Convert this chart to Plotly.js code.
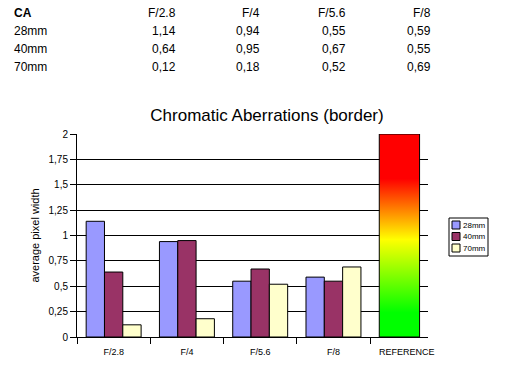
<!DOCTYPE html>
<html><head><meta charset="utf-8">
<script src="https://cdn.plot.ly/plotly-3.0.1.min.js"></script>
<style>html,body{margin:0;padding:0;background:#fff}#chart{width:516px;height:367px}</style>
</head><body><div id="chart"></div>
<script>
// ---- data ----
const categories = ['F/2.8', 'F/4', 'F/5.6', 'F/8'];
const referenceLabel = 'REFERENCE';
const referenceValue = 2;
const seriesNames = ['28mm', '40mm', '70mm'];
const values28 = [1.14, 0.94, 0.55, 0.59];
const values40 = [0.64, 0.95, 0.67, 0.55];
const values70 = [0.12, 0.18, 0.52, 0.69];
const tableHeader = 'CA';
const chartTitle = 'Chromatic Aberrations (border)';
const yTitle = 'average pixel width';

// ---- styles ----
const seriesValues = [values28, values40, values70];
const seriesColors = ['#9999FF', '#993366', '#FFFFCC'];
const FONT = 'Arial, "Liberation Sans", sans-serif';
const W = 516, H = 367;
const M = {l: 77, r: 88, t: 134, b: 30};
const pw = W - M.l - M.r, ph = H - M.t - M.b;
const px = x => (x - M.l) / pw;
const py = y => (H - M.b - y) / ph;

const allLabels = categories.concat([referenceLabel]);
const idx = allLabels.map((_, i) => i);

const traces = seriesNames.map((name, s) => ({
  type: 'bar',
  name: name,
  x: categories.map((_, i) => i),
  y: seriesValues[s],
  marker: {color: seriesColors[s], line: {color: '#000', width: 1}},
  showlegend: false,
  hoverinfo: 'skip'
}));

// reference bar (gradient) drawn as filled scatter
const refC = categories.length - 0.1, refH = 0.275;
traces.push({
  type: 'scatter',
  mode: 'lines',
  x: [refC - refH, refC - refH, refC + refH, refC + refH, refC - refH],
  y: [0, referenceValue, referenceValue, 0, 0],
  fill: 'toself',
  fillgradient: {
    type: 'vertical',
    colorscale: [[0, '#00FF00'], [0.12, '#00FF00'], [0.48, '#FFFF00'], [0.78, '#FF0000'], [1, '#FF0000']]
  },
  line: {color: '#000', width: 1},
  showlegend: false,
  hoverinfo: 'skip'
});

// table annotations
const colX = [178, 262, 348, 433];
const rowY = [13, 31, 49, 67];
const annotations = [];
const tfont = {family: FONT, size: 12, color: '#000'};
annotations.push({text: '<b>' + tableHeader + '</b>', x: px(12), y: py(rowY[0]), xanchor: 'left', yanchor: 'middle', font: tfont});
categories.forEach((c, j) => annotations.push({text: c, x: px(colX[j]), y: py(rowY[0]), xanchor: 'right', yanchor: 'middle', font: tfont}));
seriesNames.forEach((n, s) => {
  annotations.push({text: n, x: px(12), y: py(rowY[s + 1]), xanchor: 'left', yanchor: 'middle', font: tfont});
  seriesValues[s].forEach((v, j) => annotations.push({
    text: v.toFixed(2).replace('.', ','), x: px(colX[j]), y: py(rowY[s + 1]), xanchor: 'right', yanchor: 'middle', font: tfont
  }));
});
annotations.forEach(a => { a.xref = 'paper'; a.yref = 'paper'; a.showarrow = false; });

// custom legend
const shapes = [{type: 'rect', xref: 'paper', yref: 'paper', x0: px(449), x1: px(488), y0: py(256), y1: py(218),
  line: {color: '#000', width: 1}, fillcolor: '#fff'}];
const legRows = [225, 236.5, 248];
seriesNames.forEach((n, s) => {
  shapes.push({type: 'rect', xref: 'paper', yref: 'paper', x0: px(452), x1: px(460), y0: py(legRows[s] + 4), y1: py(legRows[s] - 4),
    line: {color: '#000', width: 1}, fillcolor: seriesColors[s]});
  annotations.push({text: n, xref: 'paper', yref: 'paper', x: px(461), y: py(legRows[s]), xanchor: 'left', yanchor: 'middle',
    showarrow: false, font: {family: FONT, size: 8, color: '#000'}});
});

const layout = {
  width: W, height: H,
  margin: M,
  paper_bgcolor: '#fff', plot_bgcolor: '#fff',
  separators: ',.',
  font: {family: FONT, color: '#000'},
  showlegend: false,
  barmode: 'group', bargap: 0.25, bargroupgap: 0,
  title: {text: chartTitle, font: {family: FONT, size: 17, color: '#000'},
    xref: 'paper', x: px(267), xanchor: 'center', yref: 'container', y: 1 - 115 / H, yanchor: 'middle'},
  xaxis: {
    type: 'linear', range: [-0.5, 4.29], fixedrange: true,
    tickmode: 'array', tickvals: idx, ticktext: allLabels,
    ticks: 'outside', ticklen: 6, tickcolor: 'rgba(0,0,0,0)',
    tickfont: {family: FONT, size: 9, color: '#000'},
    showgrid: false, zeroline: false, showline: true, linecolor: '#000', linewidth: 1,
    minor: {tickmode: 'array', tickvals: [-0.5, 0.5, 1.5, 2.5, 3.5], ticks: 'outside', ticklen: 6, tickcolor: '#000', tickwidth: 1, showgrid: false}
  },
  yaxis: {
    range: [0, 2], dtick: 0.25, tick0: 0, fixedrange: true,
    ticks: 'outside', ticklen: 6, tickcolor: '#000', tickwidth: 1,
    tickfont: {family: FONT, size: 10, color: '#000'},
    showgrid: true, gridcolor: '#000', gridwidth: 1, zeroline: false,
    showline: true, linecolor: '#000', linewidth: 1,
    title: {text: yTitle, font: {family: FONT, size: 11, color: '#000'}, standoff: 6}
  },
  annotations: annotations,
  shapes: shapes
};

Plotly.newPlot('chart', traces, layout, {displayModeBar: false, staticPlot: true});
</script>
</body></html>
